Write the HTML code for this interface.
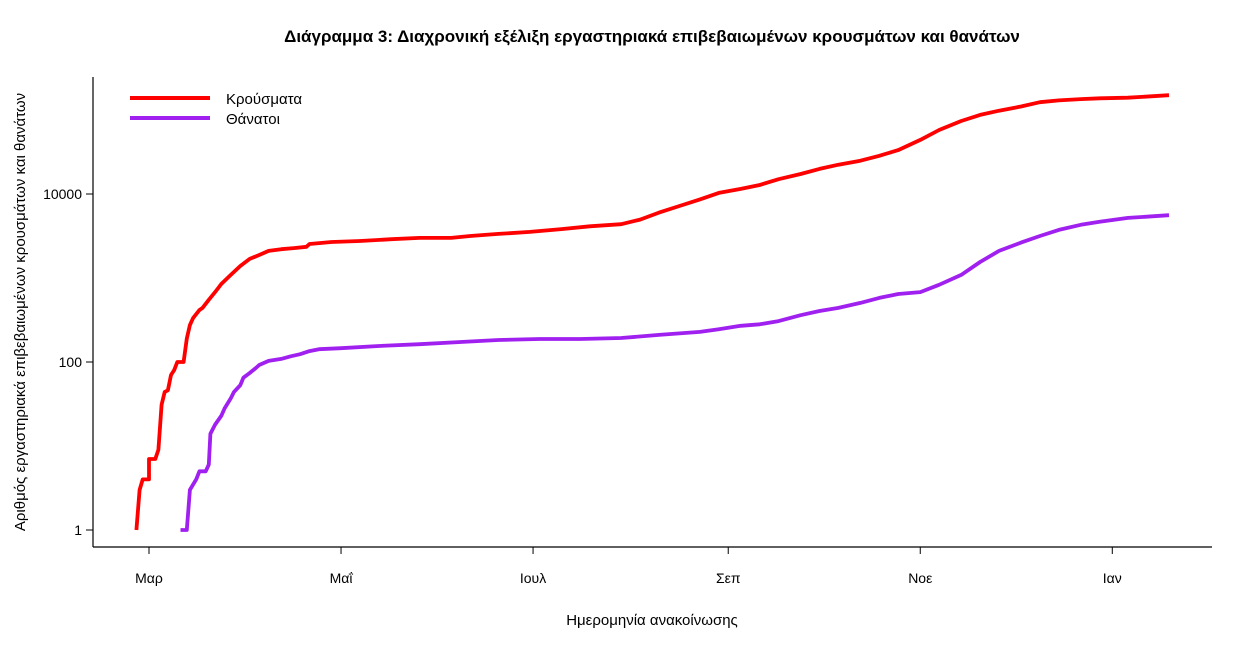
<!DOCTYPE html>
<html><head><meta charset="utf-8"><style>
body{margin:0;background:#fff;}
svg text{font-family:"Liberation Sans","DejaVu Sans",sans-serif;}
</style></head><body>
<svg id="chart" width="1260" height="648" xmlns="http://www.w3.org/2000/svg">
<rect width="1260" height="648" fill="#fff"/>
<text x="652" y="42" text-anchor="middle" font-size="17" font-weight="bold">Διάγραμμα 3: Διαχρονική εξέλιξη εργαστηριακά επιβεβαιωμένων κρουσμάτων και θανάτων</text>
<text x="652" y="625" text-anchor="middle" font-size="15">Ημερομηνία ανακοίνωσης</text>
<text transform="translate(25,312) rotate(-90)" text-anchor="middle" font-size="15">Αριθμός εργαστηριακά επιβεβαιωμένων κρουσμάτων και θανάτων</text>
<g id="axes"></g>
<g id="series"></g>
<g>
<line x1="130" y1="98" x2="210" y2="98" stroke="#ff0000" stroke-width="4"/>
<text x="226" y="104" font-size="15">Κρούσματα</text>
<line x1="130" y1="118" x2="210" y2="118" stroke="#a020f0" stroke-width="4"/>
<text x="226" y="124" font-size="15">Θάνατοι</text>
</g>
</svg>
<script>
const casesDays=[-4,-3,-2,0,0,2,3,4,5,6,7,8,9,11,12,13,14,16,17,19,21,23,26,29,32,35,38,42,46,50,51,58,67,77,86,96,102,111,121,131,140,150,156,162,169,175,181,188,194,200,207,213,219,226,232,238,245,251,258,264,270,277,283,289,296,302,311,324];
const casesVals=[1,3,4,4,7,7,9,31,44,46,70,80,100,100,190,275,333,415,440,550,680,850,1090,1390,1690,1880,2100,2200,2270,2350,2540,2680,2760,2900,3000,3000,3160,3350,3540,3820,4130,4370,4960,6000,7300,8620,10300,11500,12800,15000,17300,19900,22300,24900,28500,33300,44000,57800,74000,87500,98000,110000,124000,130000,135000,138000,140000,150000];
const deathsDays=[10,12,13,15,16,18,19,19.5,21,23,24,26,27,29,30,32,34,35,38,42,45,48,51,54,61,73,86,99,111,124,137,150,162,175,181,188,194,200,207,213,219,226,232,238,245,251,258,264,270,277,283,289,296,302,311,324];
const deathsVals=[1,1,3,4,5,5,6,14,18,23,28,37,44,53,65,74,85,92,103,109,117,124,135,142,146,155,163,173,183,188,188,193,210,228,245,270,281,307,361,405,440,505,580,645,680,830,1090,1550,2100,2640,3160,3740,4300,4670,5200,5600];
const yTicks=[1,100,10000];
const xTickDays=[0,61,122,184,245,306];
const xTickLabels=["Μαρ","Μαΐ","Ιουλ","Σεπ","Νοε","Ιαν"];
const NS="http://www.w3.org/2000/svg";
const X0=93,X1=1212,Y0=77,Y1=547;
function xs(d){return 149+d*3.148;}
function ys(v){return 530-84*Math.log10(v);}
const ax=document.getElementById('axes');
function mk(tag,attrs,parent){const e=document.createElementNS(NS,tag);for(const k in attrs)e.setAttribute(k,attrs[k]);parent.appendChild(e);return e;}
const yl=mk('line',{x1:X0,y1:Y0,x2:X0,y2:Y1,stroke:'#000','stroke-width':1.2},ax);


const xl=mk('line',{x1:X0,y1:Y1,x2:X1,y2:Y1,stroke:'#000','stroke-width':1.2},ax);


yTicks.forEach(v=>{const y=ys(v);
const t=mk('line',{x1:X0-7,y1:y,x2:X0,y2:y,stroke:'#000'},ax);


const l=mk('text',{x:X0-11,y:y+5,'font-size':14,'text-anchor':'end'},ax);


l.textContent=String(v);});
xTickDays.forEach((d,i)=>{const x=xs(d);
const t=mk('line',{x1:x,y1:Y1,x2:x,y2:Y1+7,stroke:'#000'},ax);


const l=mk('text',{x:x,y:Y1+36,'font-size':14,'text-anchor':'middle'},ax);


l.textContent=xTickLabels[i];});
const sg=document.getElementById('series');
function line(days,vals,color,name){const p=days.map((d,i)=>(i?'L':'M')+xs(d).toFixed(1)+','+ys(vals[i]).toFixed(1)).join('');
const e=mk('path',{d:p,fill:'none',stroke:color,'stroke-width':3.8,'stroke-linejoin':'round'},sg);

}
line(casesDays,casesVals,'#ff0000','cases-line');
line(deathsDays,deathsVals,'#a020f0','deaths-line');
</script>
</body></html>
